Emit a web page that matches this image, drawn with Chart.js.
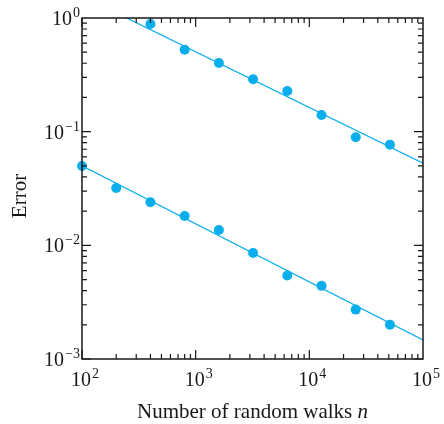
<!DOCTYPE html>
<html>
<head>
<meta charset="utf-8">
<script src="https://cdn.jsdelivr.net/npm/chart.js@4"></script>
<style>
  html, body { margin: 0; padding: 0; background: #fff; }
  canvas { display: block; }
</style>
</head>
<body>
<canvas id="chart" width="444" height="424"></canvas>
<script>
// number of random walks (x) for each series
const walksUpper = [400, 800, 1600, 3200, 6400, 12800, 25600, 51200];
const errorUpper = [0.885, 0.526, 0.402, 0.289, 0.228, 0.140, 0.0893, 0.0769];

const walksLower = [100, 200, 400, 800, 1600, 3200, 6400, 12800, 25600, 51200];
const errorLower = [0.0499, 0.032, 0.0239, 0.0181, 0.01365, 0.00857, 0.00542, 0.0044, 0.00272, 0.0020];

// fitted lines, read at their ends
const fitUpperX = [247, 100000];
const fitUpperY = [1.0, 0.0527];
const fitLowerX = [100, 100000];
const fitLowerY = [0.05, 0.00147];

const xDecades = [2, 3, 4, 5];
const yDecades = [-3, -2, -1, 0];

const BLUE = '#0AAEEC';
const INK = '#1a1718';
const SERIF = '"Liberation Serif", "DejaVu Serif", serif';

const pts = (xs, ys) => xs.map((x, i) => ({ x, y: ys[i] }));

// label like 10^k, drawn as base + raised exponent
function powerLabel(ctx, k, x, y, align) {
  const exp = k < 0 ? '\u2212' + Math.abs(k) : String(k);
  ctx.font = '20px ' + SERIF;
  const wBase = ctx.measureText('10').width;
  ctx.font = '14px ' + SERIF;
  const wExp = ctx.measureText(exp).width;
  let x0;
  if (align === 'right') x0 = x - wBase - wExp - 1;
  else x0 = x - wBase / 2;
  ctx.textAlign = 'left';
  ctx.textBaseline = 'alphabetic';
  ctx.font = '20px ' + SERIF;
  ctx.fillText('10', x0, y);
  ctx.font = '14px ' + SERIF;
  ctx.fillText(exp, x0 + wBase + 1, y - 8);
}

const frame = {
  id: 'frame',
  afterDraw(chart) {
    const { ctx, chartArea: a, scales: { x, y } } = chart;
    ctx.save();
    ctx.strokeStyle = INK;
    ctx.fillStyle = INK;

    // box
    ctx.lineWidth = 1.5;
    ctx.strokeRect(a.left, a.top, a.right - a.left, a.bottom - a.top);

    // inward ticks on all four sides
    ctx.lineWidth = 1.2;
    ctx.beginPath();
    for (let d = xDecades[0]; d < xDecades[xDecades.length - 1]; d++) {
      for (let m = 1; m <= 9; m++) {
        const px = x.getPixelForValue(m * Math.pow(10, d));
        const len = m === 1 ? 9 : 5;
        ctx.moveTo(px, a.bottom); ctx.lineTo(px, a.bottom - len);
        ctx.moveTo(px, a.top); ctx.lineTo(px, a.top + len);
      }
    }
    for (let d = yDecades[0]; d < yDecades[yDecades.length - 1]; d++) {
      for (let m = 1; m <= 9; m++) {
        const py = y.getPixelForValue(m * Math.pow(10, d));
        const len = m === 1 ? 9 : 5;
        ctx.moveTo(a.left, py); ctx.lineTo(a.left + len, py);
        ctx.moveTo(a.right, py); ctx.lineTo(a.right - len, py);
      }
    }
    ctx.stroke();

    // tick labels
    xDecades.forEach(k => {
      powerLabel(ctx, k, x.getPixelForValue(Math.pow(10, k)) - 1, a.bottom + 27, 'center');
    });
    yDecades.forEach(k => {
      powerLabel(ctx, k, a.left - 2, y.getPixelForValue(Math.pow(10, k)) + 7, 'right');
    });

    // axis titles
    const F = '21px ' + SERIF;
    const FI = 'italic 21px ' + SERIF;
    ctx.textBaseline = 'alphabetic';
    ctx.textAlign = 'left';
    const t1 = 'Number of random walks ';
    ctx.font = F;
    const w1 = ctx.measureText(t1).width;
    ctx.font = FI;
    const w2 = ctx.measureText('n').width;
    const cx = (a.left + a.right) / 2;
    const sx = cx - (w1 + w2) / 2;
    ctx.font = F;
    ctx.fillText(t1, sx, 418);
    ctx.font = FI;
    ctx.fillText('n', sx + w1, 418);

    ctx.translate(26, 196);
    ctx.rotate(-Math.PI / 2);
    ctx.font = F;
    ctx.textAlign = 'center';
    ctx.fillText('Error', 0, 0);
    ctx.restore();
  }
};

new Chart(document.getElementById('chart'), {
  type: 'scatter',
  data: {
    datasets: [
      { type: 'line', data: pts(fitUpperX, fitUpperY), borderColor: BLUE, borderWidth: 1.3, pointRadius: 0, fill: false },
      { type: 'line', data: pts(fitLowerX, fitLowerY), borderColor: BLUE, borderWidth: 1.3, pointRadius: 0, fill: false },
      { data: pts(walksUpper, errorUpper), backgroundColor: BLUE, borderWidth: 0, pointRadius: 5, clip: false },
      { data: pts(walksLower, errorLower), backgroundColor: BLUE, borderWidth: 0, pointRadius: 5, clip: false },
    ],
  },
  options: {
    responsive: false,
    animation: false,
    layout: { padding: { left: 82, right: 21, top: 18, bottom: 65 } },
    plugins: { legend: { display: false }, tooltip: { enabled: false } },
    scales: {
      x: { type: 'logarithmic', min: 100, max: 100000, display: false },
      y: { type: 'logarithmic', min: 0.001, max: 1, display: false },
    },
  },
  plugins: [frame],
});
</script>
</body>
</html>
